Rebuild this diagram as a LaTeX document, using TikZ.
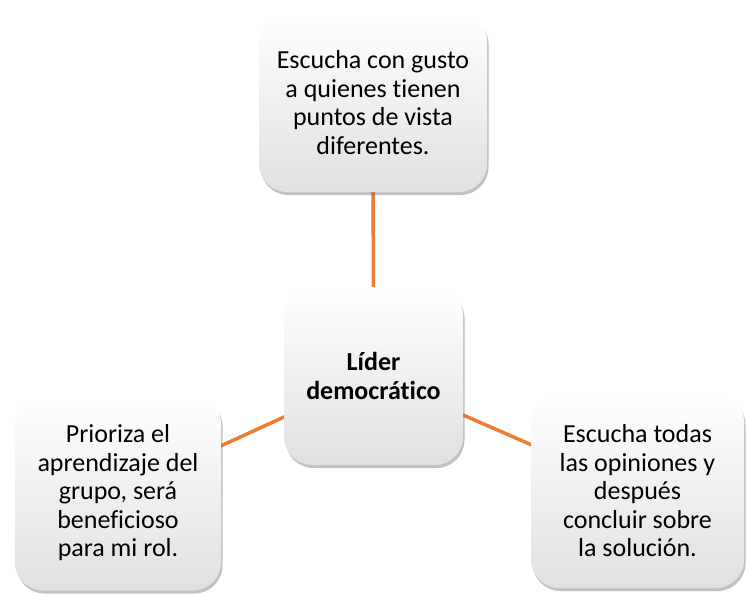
\documentclass[tikz,border=0pt]{standalone}
\usepackage{fontspec}
\setmainfont{Carlito}[Ligatures=NoCommon]
\usetikzlibrary{shadows,backgrounds}
\definecolor{linkorange}{RGB}{237,125,49}
\tikzset{
  box/.style={rectangle, rounded corners=28pt, top color=white, middle color=white, bottom color=black!12,
    align=center, inner sep=0pt,
    font=\fontsize{26}{28.5}\selectfont,
    drop shadow={shadow xshift=1.5pt, shadow yshift=-3pt, opacity=0.4, fill=black!60}},
  link/.style={draw=linkorange, line width=3.5pt}
}
\begin{document}
\begin{tikzpicture}[x=1pt,y=-1pt]
\useasboundingbox (0,0) rectangle (746,595);
\node[box, minimum width=228pt, minimum height=179pt] (top) at (373,102.5)
  {Escucha con gusto\\a quienes tienen\\puntos de vista\\diferentes.};
\node[box, minimum width=179pt, minimum height=178pt, font=\fontsize{26}{28.5}\selectfont\bfseries] (ctr) at (373.5,376)
  {Líder\\democrático};
\node[box, minimum width=206pt, minimum height=195pt] (left) at (118,493)
  {Prioriza el\\aprendizaje del\\grupo, será\\beneficioso\\para mi rol.};
\node[box, minimum width=213pt, minimum height=194pt] (right) at (637.5,491)
  {Escucha todas\\las opiniones y\\después\\concluir sobre\\la solución.};
\begin{pgfonlayer}{background}
\draw[link] (top.center) -- (ctr.center);
\draw[link] (left.center) -- (ctr.center);
\draw[link] (right.center) -- (ctr.center);
\end{pgfonlayer}
\end{tikzpicture}
\end{document}
